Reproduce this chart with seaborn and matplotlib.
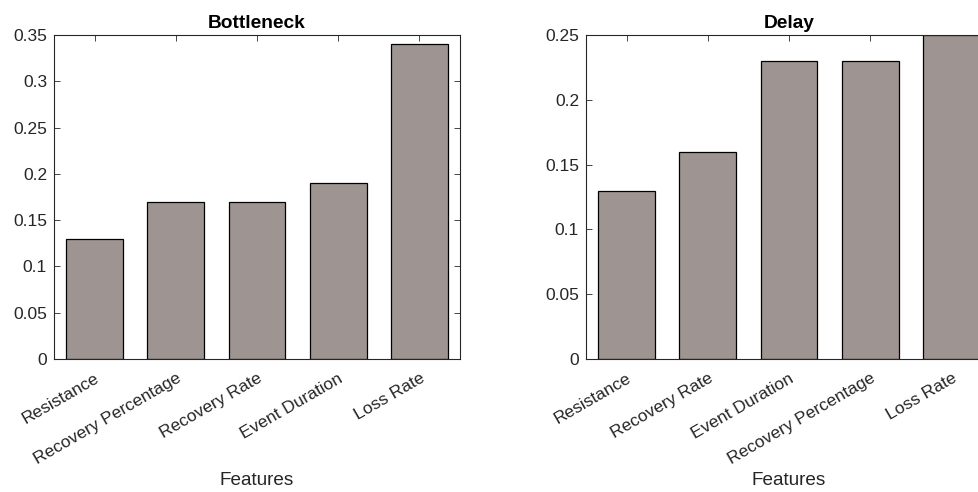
import matplotlib
matplotlib.use("Agg")
import matplotlib.pyplot as plt
import seaborn as sns
import pandas as pd

# Feature importance per disruption type
bottleneck_features = ["Resistance", "Recovery Percentage", "Recovery Rate", "Event Duration", "Loss Rate"]
bottleneck_values = [0.13, 0.17, 0.17, 0.19, 0.34]

delay_features = ["Resistance", "Recovery Rate", "Event Duration", "Recovery Percentage", "Loss Rate"]
delay_values = [0.13, 0.16, 0.23, 0.23, 0.25]

bottleneck_yticks = [0, 0.05, 0.1, 0.15, 0.2, 0.25, 0.3, 0.35]
bottleneck_yticklabels = ["0", "0.05", "0.1", "0.15", "0.2", "0.25", "0.3", "0.35"]
delay_yticks = [0, 0.05, 0.1, 0.15, 0.2, 0.25]
delay_yticklabels = ["0", "0.05", "0.1", "0.15", "0.2", "0.25"]

sns.set_theme(style="white")
plt.rcParams["font.family"] = ["Liberation Sans", "DejaVu Sans"]

BAR_COLOR = "#9e9592"
INK = "#262626"

fig = plt.figure(figsize=(9.79, 4.92), dpi=100)
W, H = 979, 492


def axes_px(left, top, right, bottom):
    return fig.add_axes([left / W, 1 - bottom / H, (right - left) / W, (bottom - top) / H])


ax1 = axes_px(54, 35, 460, 359)
ax2 = axes_px(586, 35, 992, 359)

panels = [
    (ax1, "Bottleneck", bottleneck_features, bottleneck_values, bottleneck_yticks, bottleneck_yticklabels, 0.35),
    (ax2, "Delay", delay_features, delay_values, delay_yticks, delay_yticklabels, 0.25),
]

for ax, title, feats, vals, yt, ytl, ymax in panels:
    df = pd.DataFrame({"Feature": feats, "Importance": vals})
    sns.barplot(data=df, x="Feature", y="Importance", order=feats, color=BAR_COLOR,
                width=0.7, edgecolor="black", linewidth=0.9, saturation=1, ax=ax)
    ax.set_xlim(-0.5, len(feats) - 0.5)
    ax.set_ylim(0, ymax)
    ax.set_yticks(yt)
    ax.set_yticklabels(ytl, fontsize=12.5, color=INK)
    ax.set_xticks(range(len(feats)))
    ax.set_xticklabels(feats, rotation=30, ha="right", va="top", rotation_mode="anchor",
                       fontsize=12.5, color=INK)
    ax.set_xlabel("Features", fontsize=13.6, color=INK, labelpad=3)
    ax.set_ylabel("")
    ax.set_title(title, fontsize=13.8, fontweight="bold", color="black", pad=5)
    ax.tick_params(axis="both", which="both", direction="in", length=4, width=0.6,
                   colors=INK, top=True, right=True, bottom=True, left=True)
    ax.tick_params(axis="x", pad=8.5)
    ax.tick_params(axis="y", pad=5)
    for side in ["top", "right", "bottom", "left"]:
        ax.spines[side].set_visible(True)
        ax.spines[side].set_color(INK)
        ax.spines[side].set_linewidth(0.8)

fig.savefig("out.png", dpi=100, facecolor="white")
